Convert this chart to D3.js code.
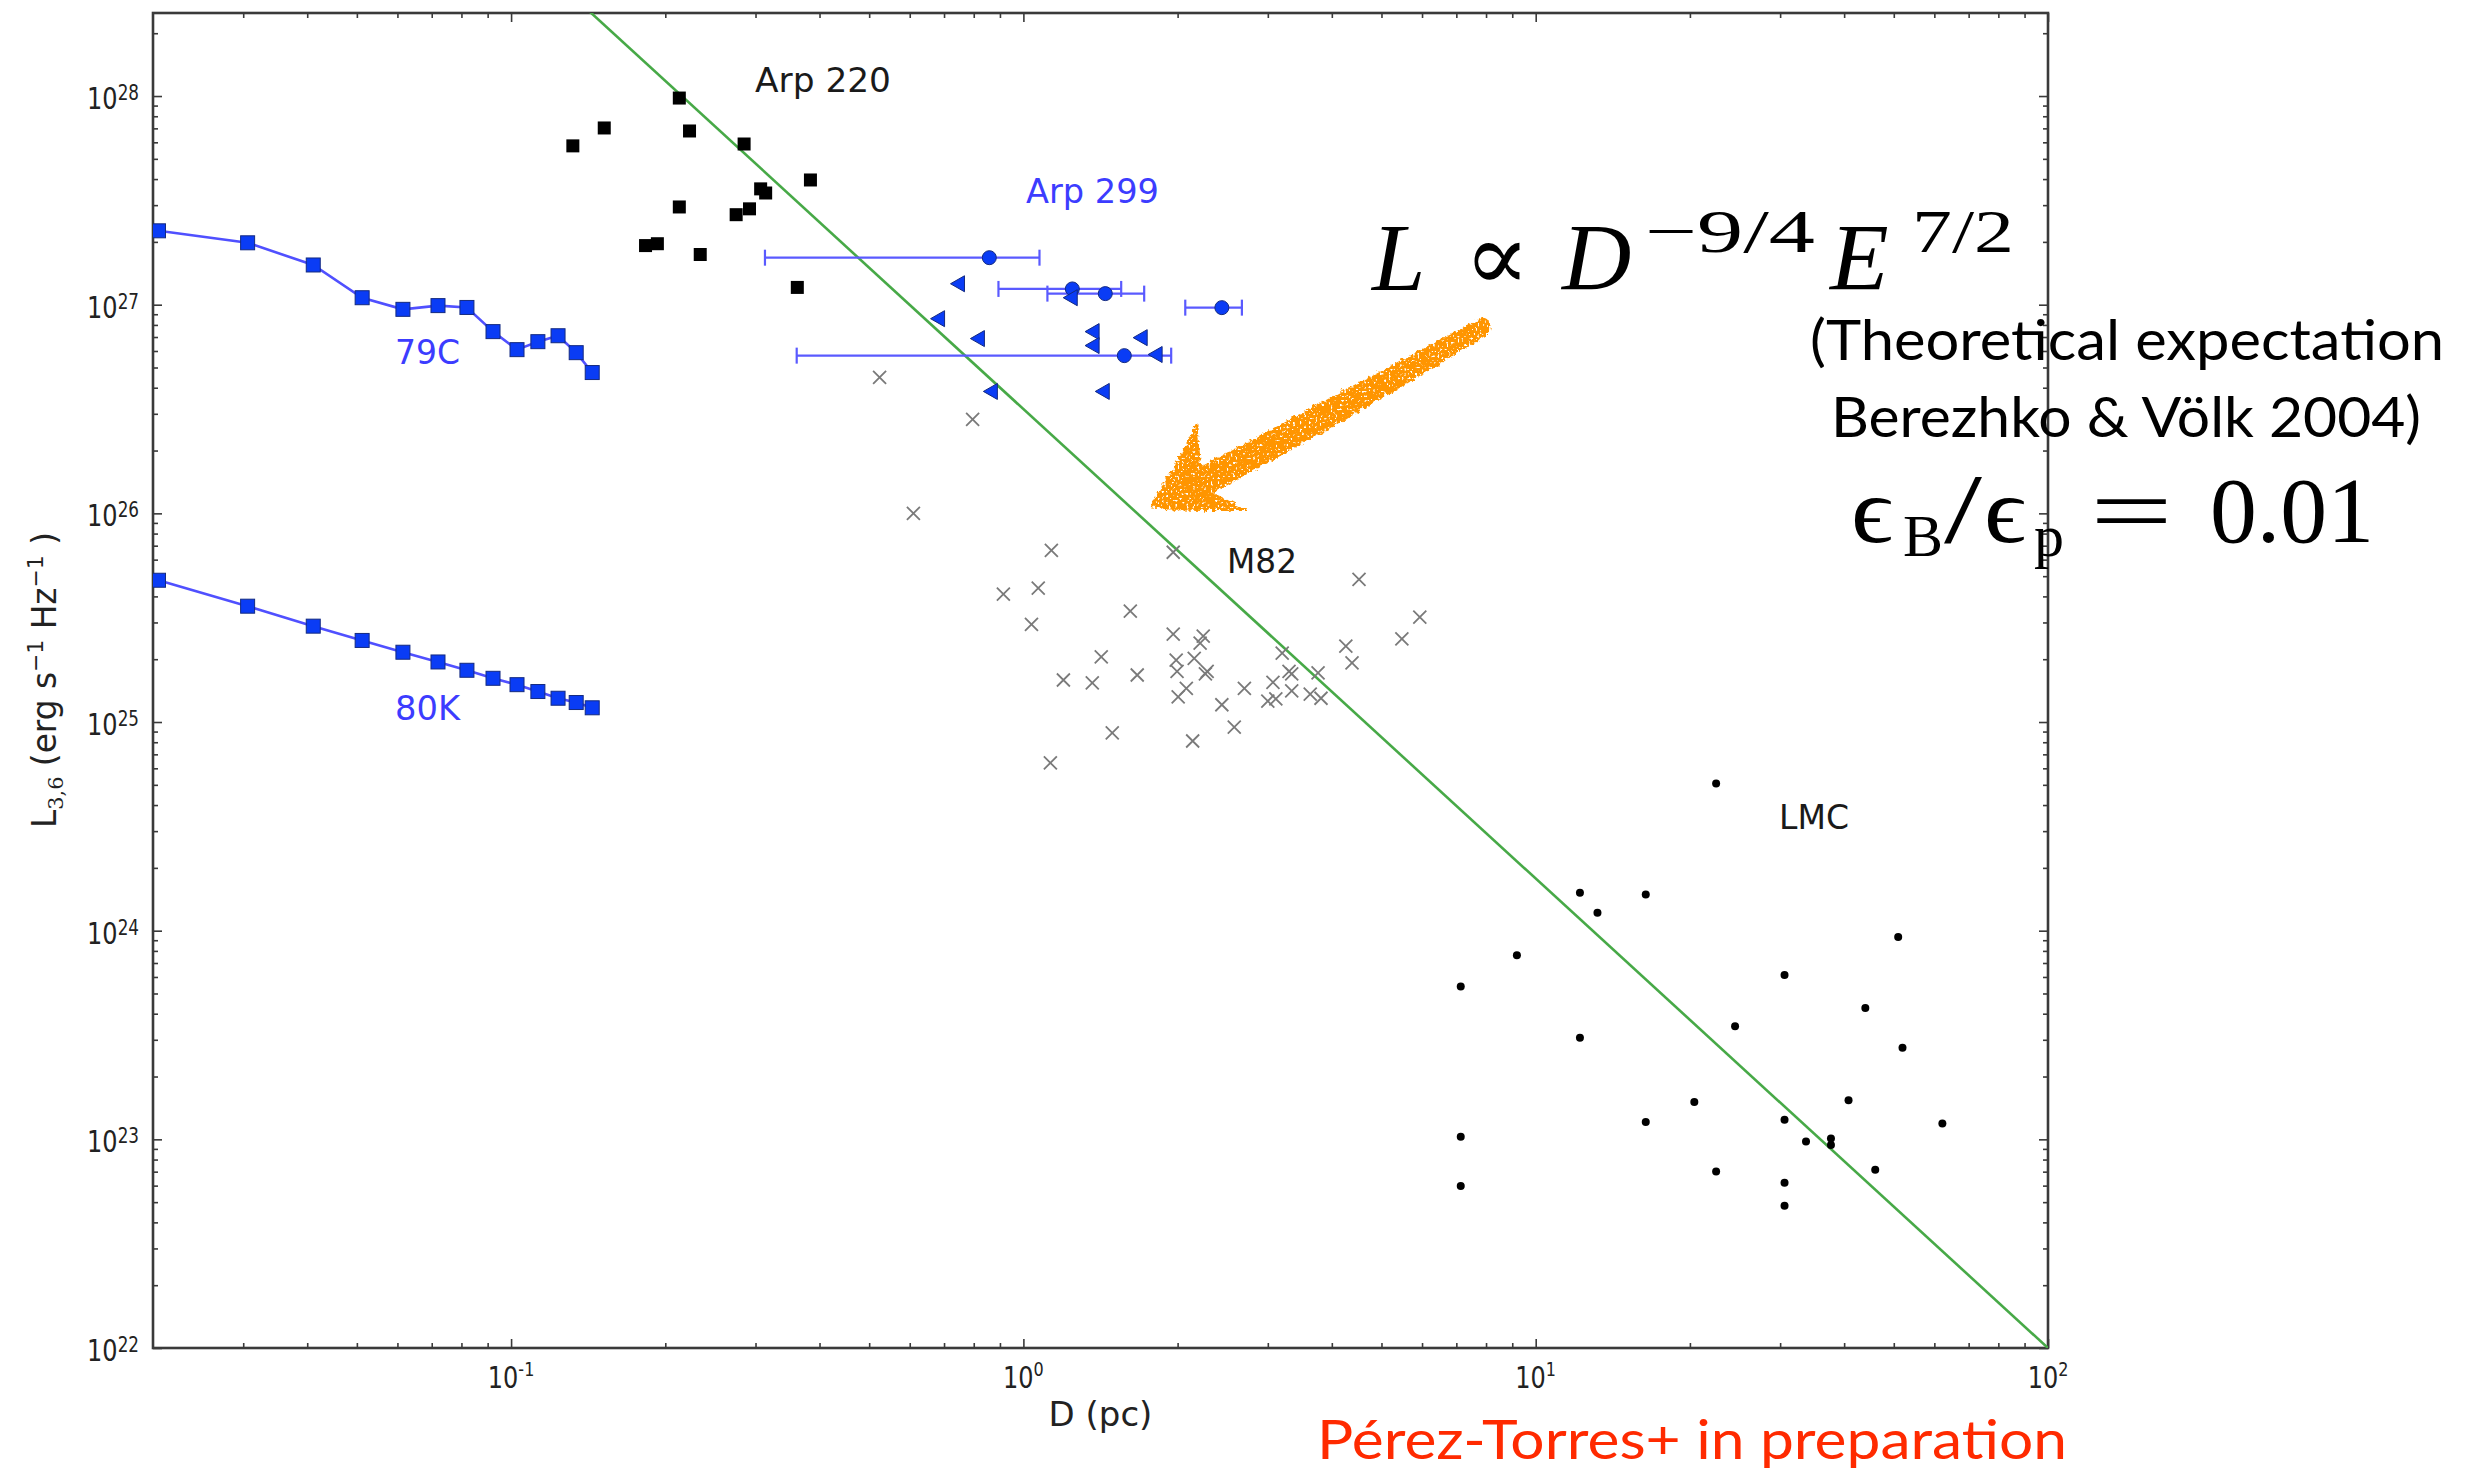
<!DOCTYPE html>
<html>
<head>
<meta charset="utf-8">
<script src="https://cdn.jsdelivr.net/npm/d3@7"></script>
<style>
  body { margin: 0; background: #fff; }
  svg { display: block; }
</style>
</head>
<body>
<div id="chart"></div>
<script>
// SN 1979C / 1980K light-curve tracks (same D grid for both)
const trackD = [0.0205, 0.0306, 0.0411, 0.0512, 0.0615, 0.072, 0.082, 0.0922, 0.1027, 0.1128, 0.1235, 0.134, 0.144]
const sn79cL = [2.26e27, 1.98e27, 1.55e27, 1.08e27, 9.5e26, 9.9e26, 9.7e26, 7.43e26, 6.09e26, 6.65e26, 7.1e26, 5.89e26, 4.73e26]
const sn80kL = [4.78e25, 3.59e25, 2.88e25, 2.46e25, 2.16e25, 1.94e25, 1.77e25, 1.62e25, 1.51e25, 1.40e25, 1.30e25, 1.24e25, 1.17e25]

// Arp 220 (black squares)
const arp220D = [0.132, 0.152, 0.213, 0.223, 0.285, 0.307, 0.314, 0.384, 0.213, 0.275, 0.292, 0.183, 0.193, 0.234, 0.362]
const arp220L = [5.77e27, 7.03e27, 9.78e27, 6.80e27, 5.89e27, 3.59e27, 3.43e27, 3.96e27, 2.94e27, 2.70e27, 2.88e27, 1.92e27, 1.96e27, 1.74e27, 1.21e27]

// Arp 299 (circles with D error bars, triangles = upper limits in D)
const arp299D = [0.858, 1.246, 1.445, 2.44, 1.574]
const arp299L = [1.68e27, 1.19e27, 1.13e27, 9.68e26, 5.70e26]
const arp299Dlo = [0.313, 0.894, 1.114, 2.07, 0.361]
const arp299Dhi = [1.075, 1.552, 1.721, 2.67, 1.943]
const arp299LimD = [0.747, 0.683, 0.817, 0.866, 1.240, 1.368, 1.368, 1.698, 1.816, 1.432]
const arp299LimL = [1.26e27, 8.57e26, 6.88e26, 3.84e26, 1.08e27, 7.43e26, 6.37e26, 6.95e26, 5.77e26, 3.84e26]

// M82 (grey crosses)
const m82D = [0.524, 0.796, 0.610, 1.134, 1.961, 4.52, 0.914, 1.069, 1.617, 1.037, 5.94, 5.48, 1.961, 2.244, 2.213,
  4.26, 4.38, 3.20, 1.419, 1.987, 2.155, 1.995, 2.284, 2.266, 3.30, 3.34, 3.76, 1.197, 1.363, 1.668,
  3.07, 2.70, 2.08, 3.34, 3.63, 3.81, 2.005, 3.00, 3.11, 2.44, 1.491, 2.58, 2.14, 1.129]
const m82L = [4.48e26, 2.82e26, 1.00e26, 6.65e25, 6.51e25, 4.83e25, 4.10e25, 4.38e25, 3.40e25, 2.94e25, 3.18e25, 2.50e25, 2.64e25, 2.58e25, 2.39e25,
  2.31e25, 1.92e25, 2.14e25, 2.05e25, 1.98e25, 2.02e25, 1.75e25, 1.75e25, 1.70e25, 1.75e25, 1.70e25, 1.72e25, 1.59e25, 1.54e25, 1.68e25,
  1.55e25, 1.45e25, 1.45e25, 1.41e25, 1.36e25, 1.30e25, 1.32e25, 1.26e25, 1.29e25, 1.21e25, 8.86e24, 9.46e24, 8.11e24, 6.37e24]

// LMC (black dots)
const lmcD = [22.5, 12.2, 16.4, 13.2, 9.19, 7.14, 51.0, 30.6, 44.0, 24.5, 12.2, 52.0, 20.4, 40.8, 16.4, 30.6, 7.14,
  33.7, 37.7, 37.7, 62.2, 22.5, 46.0, 30.6, 7.14, 30.6]
const lmcL = [5.07e24, 1.52e24, 1.49e24, 1.22e24, 7.63e23, 5.40e23, 9.33e23, 6.14e23, 4.26e23, 3.48e23, 3.07e23, 2.75e23,
  1.51e23, 1.54e23, 1.21e23, 1.24e23, 1.03e23, 9.76e22, 1.01e23, 9.39e22, 1.19e23, 7.02e22, 7.15e22, 6.20e22, 5.97e22, 4.80e22]

// L ~ D^(-9/4) line end points
const modelD = [0.1, 100]
const modelL = [5.62e28, 1e22]

const xMajor = [0.1, 1, 10, 100]
const xMajorExp = ['-1', '0', '1', '2']
const yMajor = [1e22, 1e23, 1e24, 1e25, 1e26, 1e27, 1e28]
const yMajorExp = ['22', '23', '24', '25', '26', '27', '28']

const W = 2473, H = 1475
const pL = 153, pR = 2048, pT = 13, pB = 1348

const svg = d3.select('#chart').append('svg')
  .attr('width', W).attr('height', H)

const x = d3.scaleLog().domain([0.02, 100]).range([pL, pR])
const y = d3.scaleLog().domain([1e22, 2.5e28]).range([pB, pT])

const defs = svg.append('defs')
defs.append('clipPath').attr('id', 'plot')
  .append('rect').attr('x', pL).attr('y', pT).attr('width', pR - pL).attr('height', pB - pT)

const chalk = defs.append('filter').attr('id', 'chalk')
  .attr('x', '-10%').attr('y', '-10%').attr('width', '120%').attr('height', '120%')
chalk.append('feTurbulence').attr('type', 'fractalNoise').attr('baseFrequency', 0.25).attr('numOctaves', 2).attr('seed', 3).attr('result', 'n')
chalk.append('feDisplacementMap').attr('in', 'SourceGraphic').attr('in2', 'n').attr('scale', 7)
  .attr('xChannelSelector', 'R').attr('yChannelSelector', 'G').attr('result', 'd')
chalk.append('feTurbulence').attr('type', 'fractalNoise').attr('baseFrequency', 0.45).attr('numOctaves', 1).attr('seed', 7).attr('result', 'n2')
chalk.append('feColorMatrix').attr('in', 'n2').attr('type', 'matrix')
  .attr('values', '0 0 0 0 1  0 0 0 0 1  0 0 0 0 1  0 0 0 10 -2.9').attr('result', 'm')
chalk.append('feComposite').attr('in', 'd').attr('in2', 'm').attr('operator', 'in')

// minor tick values
function minors(lo, hi) {
  const out = []
  for (let e = Math.floor(Math.log10(lo)); e <= Math.ceil(Math.log10(hi)); e++) {
    for (let k = 2; k <= 9; k++) {
      const v = k * Math.pow(10, e)
      if (v > lo && v < hi) out.push(v)
    }
  }
  return out
}
const xMinor = minors(0.02, 100)
const yMinor = minors(1e22, 2.5e28)

const axisColor = '#3a3a3a'

function tickAxis(axis, vals, len, tr) {
  const g = svg.append('g').attr('transform', tr)
    .call(axis.tickValues(vals).tickSize(len).tickFormat(''))
  g.select('.domain').remove()
  g.selectAll('line').attr('stroke', axisColor).attr('stroke-width', 1.6)
  return g
}
// ticks point inward on all four sides
tickAxis(d3.axisTop(x), xMajor, 9, `translate(0,${pB})`)
tickAxis(d3.axisTop(x), xMinor, 5, `translate(0,${pB})`)
tickAxis(d3.axisBottom(x), xMajor, 9, `translate(0,${pT})`)
tickAxis(d3.axisBottom(x), xMinor, 5, `translate(0,${pT})`)
tickAxis(d3.axisRight(y), yMajor, 9, `translate(${pL},0)`)
tickAxis(d3.axisRight(y), yMinor, 5, `translate(${pL},0)`)
tickAxis(d3.axisLeft(y), yMajor, 9, `translate(${pR},0)`)
tickAxis(d3.axisLeft(y), yMinor, 5, `translate(${pR},0)`)

svg.append('rect')
  .attr('x', pL).attr('y', pT).attr('width', pR - pL).attr('height', pB - pT)
  .attr('fill', 'none').attr('stroke', axisColor).attr('stroke-width', 2.6)

// tick labels 10^n, a bit condensed like the original
const tickFont = "'DejaVu Sans', sans-serif"
xMajor.forEach((v, i) => {
  const t = svg.append('g').attr('transform', `translate(${x(v)},1388) scale(0.8,1)`)
    .append('text').attr('text-anchor', 'middle').attr('font-family', tickFont)
    .attr('font-size', 30).attr('fill', '#222')
  t.append('tspan').text('10')
  t.append('tspan').attr('font-size', 20).attr('dy', -12).text(xMajorExp[i])
})
yMajor.forEach((v, i) => {
  const t = svg.append('g').attr('transform', `translate(${pL - 14},${y(v) + 13}) scale(0.8,1)`)
    .append('text').attr('text-anchor', 'end').attr('font-family', tickFont)
    .attr('font-size', 30).attr('fill', '#222')
  t.append('tspan').text('10')
  t.append('tspan').attr('font-size', 21).attr('dy', -9).text(yMajorExp[i])
})

// axis titles
svg.append('text').attr('x', (pL + pR) / 2).attr('y', 1426)
  .attr('text-anchor', 'middle').attr('font-family', tickFont).attr('font-size', 34).attr('fill', '#222')
  .text('D (pc)')

const yt = svg.append('text').attr('transform', 'translate(56,680) rotate(-90)')
  .attr('text-anchor', 'middle').attr('font-family', tickFont).attr('font-size', 33).attr('fill', '#222')
  .attr('textLength', 296).attr('lengthAdjust', 'spacingAndGlyphs')
yt.append('tspan').text('L')
yt.append('tspan').attr('font-size', 21).attr('dy', 7).attr('font-family', "'DejaVu Serif', serif").text('3,6')
yt.append('tspan').attr('dy', -7).text(' (erg s')
yt.append('tspan').attr('font-size', 22).attr('dy', -13).text('\u22121')
yt.append('tspan').attr('dy', 13).text('  Hz')
yt.append('tspan').attr('font-size', 22).attr('dy', -13).text('\u22121')
yt.append('tspan').attr('dy', 13).text(' )')

// data layer
const plot = svg.append('g').attr('clip-path', 'url(#plot)')

const line = d3.line().x(d => x(d[0])).y(d => y(d[1]))

plot.append('path').datum(d3.zip(modelD, modelL)).attr('d', line)
  .attr('fill', 'none').attr('stroke', '#47a947').attr('stroke-width', 2.6)

const blueLine = '#5050ff'
const blueFill = '#0a3cf5'

;[sn79cL, sn80kL].forEach(series => {
  const pts = d3.zip(trackD, series)
  plot.append('path').datum(pts).attr('d', line)
    .attr('fill', 'none').attr('stroke', blueLine).attr('stroke-width', 2.6)
  plot.selectAll(null).data(pts).enter().append('rect')
    .attr('x', d => x(d[0]) - 7).attr('y', d => y(d[1]) - 7)
    .attr('width', 14).attr('height', 14)
    .attr('fill', blueFill).attr('stroke', '#142a80').attr('stroke-width', 1)
})

plot.selectAll(null).data(d3.zip(arp220D, arp220L)).enter().append('rect')
  .attr('x', d => x(d[0]) - 6.5).attr('y', d => y(d[1]) - 6.5)
  .attr('width', 13).attr('height', 13).attr('fill', '#000')

// Arp 299 error bars
const bars = plot.selectAll(null).data(d3.range(arp299D.length)).enter().append('g')
  .attr('stroke', '#5a5aff').attr('stroke-width', 2.2)
bars.append('line')
  .attr('x1', i => x(arp299Dlo[i])).attr('x2', i => x(arp299Dhi[i]))
  .attr('y1', i => y(arp299L[i])).attr('y2', i => y(arp299L[i]))
bars.append('line')
  .attr('x1', i => x(arp299Dlo[i])).attr('x2', i => x(arp299Dlo[i]))
  .attr('y1', i => y(arp299L[i]) - 8).attr('y2', i => y(arp299L[i]) + 8)
bars.append('line')
  .attr('x1', i => x(arp299Dhi[i])).attr('x2', i => x(arp299Dhi[i]))
  .attr('y1', i => y(arp299L[i]) - 8).attr('y2', i => y(arp299L[i]) + 8)
plot.selectAll(null).data(d3.zip(arp299D, arp299L)).enter().append('circle')
  .attr('cx', d => x(d[0])).attr('cy', d => y(d[1])).attr('r', 7)
  .attr('fill', blueFill).attr('stroke', '#142a80').attr('stroke-width', 1)

plot.selectAll(null).data(d3.zip(arp299LimD, arp299LimL)).enter().append('path')
  .attr('transform', d => `translate(${x(d[0])},${y(d[1])})`)
  .attr('d', 'M-8,0 L6,-8 L6,8 Z')
  .attr('fill', blueFill).attr('stroke', '#142a80').attr('stroke-width', 1)

plot.selectAll(null).data(d3.zip(m82D, m82L)).enter().append('path')
  .attr('transform', d => `translate(${x(d[0])},${y(d[1])})`)
  .attr('d', 'M-6.5,-6.5 L6.5,6.5 M-6.5,6.5 L6.5,-6.5')
  .attr('stroke', '#7a7a7a').attr('stroke-width', 1.8).attr('fill', 'none')

plot.selectAll(null).data(d3.zip(lmcD, lmcL)).enter().append('circle')
  .attr('cx', d => x(d[0])).attr('cy', d => y(d[1])).attr('r', 4).attr('fill', '#000')

// group labels
const labelFont = "'DejaVu Sans', sans-serif"
const labels = [
  { t: 'Arp 220', x: 755, y: 92, w: 136, c: '#1a1a1a' },
  { t: 'Arp 299', x: 1026, y: 203, w: 133, c: '#3c3cff' },
  { t: '79C', x: 395, y: 364, w: 65, c: '#3c3cff' },
  { t: '80K', x: 395, y: 720, w: 65, c: '#3c3cff' },
  { t: 'M82', x: 1227, y: 573, w: 70, c: '#1a1a1a' },
  { t: 'LMC', x: 1779, y: 829, w: 70, c: '#1a1a1a' }
]
svg.selectAll(null).data(labels).enter().append('text')
  .attr('x', d => d.x).attr('y', d => d.y)
  .attr('textLength', d => d.w).attr('lengthAdjust', 'spacingAndGlyphs')
  .attr('font-family', labelFont).attr('font-size', 33).attr('fill', d => d.c)
  .text(d => d.t)

// hand drawn orange arrow
svg.append('path')
  .attr('d', 'M1481,318 C1400,360 1290,420 1201,466 L1197,422 C1185,450 1165,480 1150,507 C1180,512 1215,511 1249,511 L1214,493 C1300,445 1400,390 1488,334 C1494,328 1489,316 1481,318 Z')
  .attr('fill', '#ff9500').attr('filter', 'url(#chalk)')

// formula and notes
const serif = "'Liberation Serif', 'DejaVu Serif', serif"
function txt(s, x0, y0, size, opts = {}) {
  const t = svg.append('text').attr('x', x0).attr('y', y0).attr('font-size', size)
    .attr('font-family', opts.font || serif).attr('fill', opts.fill || '#000')
    .attr('font-style', opts.italic ? 'italic' : 'normal')
  if (opts.w) t.attr('textLength', opts.w).attr('lengthAdjust', 'spacingAndGlyphs')
  t.text(s)
  return t
}
txt('L', 1372, 290, 96, { italic: true })
txt('\u221D', 1464, 290, 96, { w: 66 })
txt('D', 1562, 290, 96, { italic: true })
txt('\u22129/4', 1645, 252, 62, { w: 170 })
txt('E', 1830, 290, 96, { italic: true })
txt('7/2', 1912, 252, 62, { w: 102 })

const gill = "Lato, 'Open Sans', sans-serif"
txt('(Theoretical expectation', 1810, 360, 57, { font: gill, w: 634 })
txt('Berezhko & V\u00F6lk 2004)', 1831, 437, 57, { font: gill, w: 590 })

txt('\u03F5', 1851, 542, 94, { w: 42 })
txt('B', 1903, 556, 60)
txt('/', 1944, 542, 100, { w: 38 })
txt('\u03F5', 1984, 542, 94, { w: 42 })
txt('p', 2034, 556, 60)
txt('=', 2090, 542, 94, { w: 83 })
txt('0.01', 2210, 542, 94, { w: 164 })

txt('P\u00E9rez-Torres+ in preparation', 1317, 1459, 54, { font: gill, fill: '#ff2a00', w: 750 })
</script>
</body>
</html>
